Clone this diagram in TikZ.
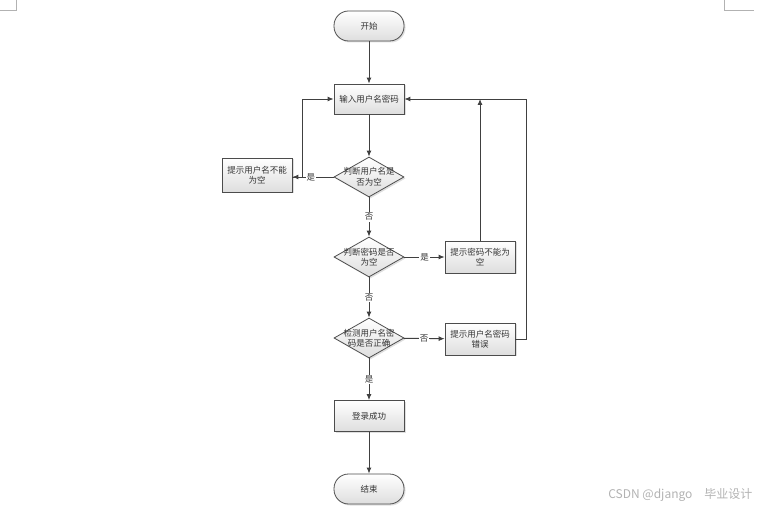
\documentclass[tikz,border=0pt]{standalone}
\usepackage{fontspec}
\newfontfamily\cjk{Noto Sans CJK SC}
\usetikzlibrary{shapes.geometric,arrows.meta,shadows}

\tikzset{
	flowtext/.style={font=\cjk\fontsize{8.5}{10.5}\selectfont, text=black!80},
	procbox/.style={flowtext, draw=black!70, line width=0.8pt, top color=white, bottom color=black!13,
		minimum width=70, minimum height=30, inner sep=1pt, align=center,
		drop shadow={shadow xshift=1.5pt, shadow yshift=-1.5pt, opacity=0.25}},
	termbox/.style={procbox, rounded corners=14.5pt, minimum height=30},
	decbox/.style={diamond, draw=black!70, line width=0.8pt, top color=white, bottom color=black!13,
		minimum width=70, minimum height=40, inner sep=0pt,
		drop shadow={shadow xshift=1.5pt, shadow yshift=-1.5pt, opacity=0.25}},
	dectext/.style={flowtext, align=center, inner sep=0pt},
	flow/.style={draw=black!75, line width=0.9pt, -{Latex[length=6pt,width=5pt]}},
	yesno/.style={flowtext, fill=white, inner sep=1pt, midway}
}

\begin{document}
\begin{tikzpicture}[x=1pt,y=-1pt]
	\useasboundingbox (0,0) rectangle (760,510);
	% page corner marks
	\draw[black!30, line width=0.8pt] (16,0) -- (16,10) -- (0,10);
	\draw[black!30, line width=0.8pt] (724,0) -- (724,10) -- (754,10);

	\node[termbox] (start) at (369,26) {开始};
	\node[procbox] (input) at (369,99) {输入用户名密码};
	\node[decbox, label={[dectext]center:判断用户名是\\否为空}] (chkname) at (369,177) {};
	\node[procbox, minimum height=34] (nameempty) at (257,175) {提示用户名不能\\为空};
	\node[decbox, label={[dectext]center:判断密码是否\\为空}] (chkpwd) at (369,257) {};
	\node[procbox, minimum height=32] (pwdempty) at (480,257) {提示密码不能为\\空};
	\node[decbox, label={[dectext]center:检测用户名密\\码是否正确}] (chkboth) at (369,338) {};
	\node[procbox, minimum height=32] (wrong) at (480,339) {提示用户名密码\\错误};
	\node[procbox, minimum height=31] (success) at (369,416) {登录成功};
	\node[termbox] (stop) at (369,489) {结束};

	\coordinate (pwdback) at (pwdempty.north |- input.east);

	\draw[flow] (start) -- (input);
	\draw[flow] (input) -- (chkname);
	\draw[flow] (chkname.west) -- (nameempty.east |- chkname.west) node[yesno, pos=0.55] {是};
	\draw[flow] (nameempty.east |- chkname.west) -- ++(10,0) |- (input.west);
	\draw[flow] (chkname) -- (chkpwd) node[yesno] {否};
	\draw[flow] (chkpwd) -- (pwdempty) node[yesno] {是};
	\draw[flow] (pwdempty) -- (pwdback);
	\draw[flow] (chkpwd) -- (chkboth) node[yesno] {否};
	\draw[flow] (chkboth) -- (wrong) node[yesno] {否};
	\draw[flow] (wrong.east) -- ++(11,0) |- (input.east);
	\draw[flow] (chkboth) -- (success) node[yesno] {是};
	\draw[flow] (success) -- (stop);

	\node[font=\cjk\fontsize{12}{14}\selectfont, text=black!30, anchor=east] (mark) at (756,495) {CSDN @django\quad 毕业设计};
\end{tikzpicture}
\end{document}
